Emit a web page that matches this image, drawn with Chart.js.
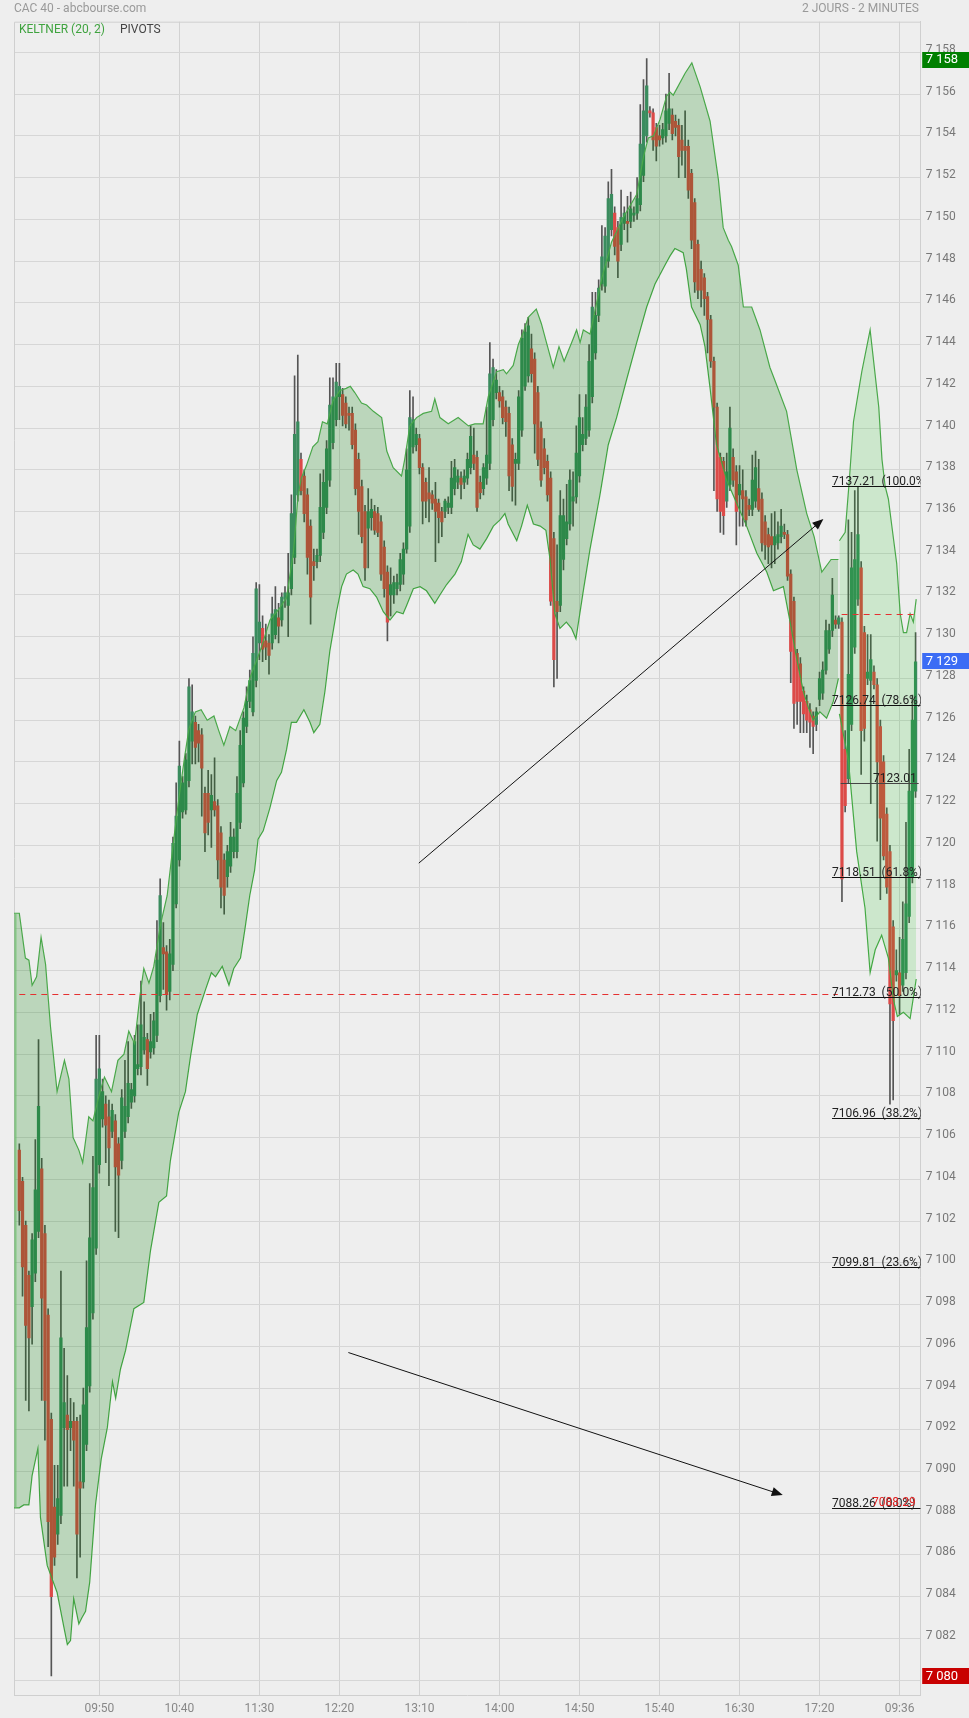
<!DOCTYPE html>
<html>
<head>
<meta charset="utf-8">
<title>CAC 40 - abcbourse.com</title>
<script src="https://cdn.jsdelivr.net/npm/chart.js@4.4.1/dist/chart.umd.min.js"></script>
<style>
  html, body { margin: 0; padding: 0; background: #eeeeee; }
  #wrap { position: relative; width: 969px; height: 1718px; font-family: Roboto, "Noto Sans", sans-serif; }
  #chart { position: absolute; left: 0; top: 0; }
  .txt { position: absolute; font-size: 12px; line-height: 14px; white-space: nowrap; z-index: 2; }
  #title { left: 14px; top: 1px; color: #999; }
  #period { right: 50px; top: 1px; color: #999; }
  #keltner { left: 19px; top: 22px; color: #3fa33f; }
  #pivots { left: 120px; top: 22px; color: #444; }
</style>
</head>
<body>
<div id="wrap">
  <div class="txt" id="title">CAC 40 - abcbourse.com</div>
  <div class="txt" id="period">2 JOURS - 2 MINUTES</div>
  <div class="txt" id="keltner">KELTNER (20, 2)</div>
  <div class="txt" id="pivots">PIVOTS</div>
  <canvas id="chart" width="969" height="1718"></canvas>
</div>
<script>
// 2 minute candles, index 0 = 09:00 day 1, day 2 starts at index 257
const opens = [
  7105.4, 7103.9, 7101.8, 7099.4, 7097.9, 7099.5, 7101.5, 7104.5, 7101.4, 7097.5,
  7092.5, 7088.3, 7087.0, 7087.9, 7092.1, 7092.7, 7092.1, 7092.4, 7092.4, 7089.5,
  7089.5, 7091.3, 7094.1, 7097.6, 7100.7, 7104.7, 7106.9, 7107.6, 7107.0, 7106.3,
  7106.8, 7105.7, 7104.9, 7106.3, 7107.0, 7107.7, 7108.0, 7109.3, 7109.4, 7110.2,
  7110.7, 7110.1, 7110.3, 7110.9, 7112.8, 7115.1, 7114.9, 7113.0, 7114.3, 7117.2,
  7119.3, 7121.6, 7121.7, 7123.1, 7125.0, 7125.9, 7125.5, 7125.3, 7122.5, 7122.5,
  7121.7, 7122.1, 7121.9, 7120.6, 7119.3, 7118.5, 7119.0, 7119.7, 7119.7, 7121.1,
  7123.0, 7125.7, 7126.9, 7126.4, 7127.9, 7129.7, 7130.4, 7129.8, 7129.7, 7129.7,
  7130.1, 7130.9, 7130.8, 7131.8, 7131.5, 7132.3, 7133.8, 7136.8, 7138.5, 7137.7,
  7136.8, 7135.3, 7133.6, 7133.6, 7133.9, 7135.0, 7136.2, 7137.5, 7139.3, 7140.4,
  7141.5, 7141.6, 7141.2, 7140.7, 7140.7, 7139.9, 7138.5, 7137.2, 7136.0, 7135.2,
  7135.7, 7136.0, 7135.9, 7135.5, 7134.3, 7133.1, 7132.0, 7132.0, 7132.3, 7132.5,
  7133.0, 7134.2, 7135.3, 7139.1, 7139.2, 7139.5, 7138.1, 7137.4, 7136.9, 7136.8,
  7136.6, 7136.4, 7136.0, 7136.0, 7136.2, 7136.2, 7137.1, 7137.4, 7137.6, 7137.4,
  7137.6, 7138.1, 7138.7, 7138.6, 7137.4, 7137.1, 7137.6, 7138.3, 7140.4, 7141.7,
  7141.7, 7141.5, 7141.0, 7140.7, 7139.2, 7138.3, 7138.3, 7139.9, 7142.0, 7142.5,
  7143.8, 7143.3, 7141.7, 7140.0, 7139.0, 7138.4, 7137.6, 7134.7, 7131.7, 7131.5,
  7133.7, 7134.7, 7135.4, 7136.5, 7136.7, 7137.7, 7139.2, 7139.5, 7139.9, 7141.5,
  7143.6, 7145.4, 7146.9, 7146.8, 7148.0, 7149.5, 7150.3, 7149.6, 7148.8, 7149.8,
  7149.9, 7149.9, 7150.2, 7150.3, 7150.7, 7152.1, 7154.0, 7155.2, 7155.1, 7154.4,
  7154.0, 7153.9, 7154.0, 7154.6, 7155.0, 7154.7, 7154.5, 7153.8, 7153.5, 7153.5,
  7152.2, 7150.8, 7148.8, 7147.6, 7147.2, 7146.3, 7145.2, 7143.2, 7141.0, 7138.6,
  7138.4, 7136.5, 7137.3, 7138.6, 7137.9, 7136.8, 7137.0, 7136.7, 7136.3, 7136.1,
  7136.5, 7137.1, 7136.6, 7135.5, 7134.9, 7134.8, 7134.4, 7134.5, 7134.8, 7135.0,
  7134.9, 7133.0, 7131.7, 7129.2, 7128.7, 7127.4, 7126.9, 7126.5, 7126.2, 7125.8,
  7127.0, 7127.3, 7128.4, 7129.4, 7130.3, 7130.8, 7130.6, 7130.7, 7124.6, 7123.2,
  7125.8, 7129.5, 7131.8, 7133.3, 7130.2, 7128.0, 7127.9, 7128.3, 7127.7, 7125.7,
  7124.0, 7121.5, 7119.7, 7116.1, 7113.8, 7113.9, 7113.3, 7113.9, 7116.6, 7118.5,
  7122.6
]
const highs = [
  7105.7, 7104.1, 7102.0, 7099.6, 7101.4, 7105.9, 7110.7, 7105.0, 7101.8, 7097.8,
  7092.8, 7090.3, 7090.3, 7099.6, 7095.9, 7094.6, 7093.5, 7093.3, 7092.6, 7092.7,
  7094.0, 7100.1, 7103.8, 7105.1, 7110.9, 7110.9, 7108.8, 7108.0, 7107.8, 7107.6,
  7107.1, 7106.0, 7108.3, 7109.7, 7110.6, 7108.6, 7110.9, 7111.4, 7113.5, 7112.5,
  7111.0, 7111.9, 7112.0, 7116.4, 7118.4, 7116.3, 7115.2, 7115.5, 7120.4, 7123.0,
  7125.0, 7123.3, 7124.4, 7128.0, 7127.7, 7126.2, 7125.8, 7125.6, 7122.8, 7123.6,
  7123.4, 7124.2, 7122.2, 7120.9, 7119.6, 7120.0, 7121.1, 7120.8, 7123.3, 7125.5,
  7126.4, 7127.6, 7128.4, 7130.0, 7132.6, 7132.5, 7131.0, 7130.6, 7130.1, 7131.9,
  7132.4, 7131.6, 7132.1, 7132.4, 7134.0, 7136.8, 7142.5, 7143.5, 7138.8, 7138.0,
  7137.1, 7135.6, 7134.2, 7134.2, 7137.8, 7138.0, 7139.4, 7142.4, 7142.4, 7143.1,
  7143.1, 7141.9, 7141.5, 7141.0, 7141.0, 7140.2, 7138.8, 7137.5, 7136.3, 7137.1,
  7136.6, 7136.3, 7136.2, 7135.8, 7134.6, 7133.4, 7133.3, 7132.9, 7133.0, 7134.0,
  7134.5, 7139.0, 7141.8, 7141.5, 7140.0, 7139.7, 7138.3, 7137.6, 7138.1, 7137.0,
  7137.4, 7136.6, 7136.2, 7136.6, 7136.7, 7138.4, 7138.5, 7138.0, 7137.9, 7138.0,
  7138.8, 7140.1, 7140.0, 7138.9, 7137.7, 7138.3, 7141.0, 7144.1, 7143.3, 7142.8,
  7142.0, 7141.8, 7141.3, 7141.0, 7139.5, 7138.8, 7141.8, 7144.7, 7145.0, 7145.3,
  7144.5, 7143.6, 7142.0, 7140.3, 7139.5, 7138.7, 7137.9, 7135.0, 7134.4, 7137.0,
  7136.6, 7137.3, 7138.0, 7137.9, 7140.1, 7141.6, 7140.5, 7141.6, 7144.0, 7146.5,
  7146.5, 7147.1, 7149.7, 7149.6, 7151.8, 7152.4, 7150.6, 7149.9, 7151.4, 7150.6,
  7151.1, 7151.3, 7150.6, 7152.0, 7155.5, 7156.7, 7157.7, 7155.4, 7155.3, 7154.6,
  7154.5, 7154.6, 7156.0, 7157.0, 7155.3, 7155.0, 7154.8, 7154.5, 7155.2, 7153.8,
  7152.4, 7151.0, 7149.0, 7148.0, 7147.4, 7146.5, 7145.4, 7143.4, 7141.2, 7138.8,
  7138.6, 7138.8, 7141.0, 7139.0, 7138.2, 7138.2, 7138.0, 7137.0, 7136.6, 7138.7,
  7138.9, 7138.5, 7136.9, 7135.8, 7135.2, 7135.9, 7136.0, 7135.5, 7136.1, 7135.4,
  7135.1, 7133.2, 7131.9, 7129.4, 7129.0, 7127.6, 7127.2, 7126.8, 7126.4, 7126.6,
  7128.3, 7128.8, 7130.8, 7130.6, 7132.8, 7131.0, 7131.0, 7130.9, 7125.5, 7135.6,
  7135.0, 7137.0, 7137.2, 7133.6, 7130.5, 7130.1, 7130.1, 7128.6, 7128.0, 7126.0,
  7124.3, 7121.8, 7120.0, 7116.4, 7115.0, 7115.6, 7117.3, 7121.1, 7124.6, 7127.2,
  7130.2
]
const lows = [
  7101.8, 7098.4, 7093.4, 7092.9, 7096.1, 7099.1, 7101.2, 7093.4, 7091.5, 7086.4,
  7080.2, 7085.5, 7086.5, 7087.5, 7089.3, 7089.3, 7091.0, 7089.3, 7084.9, 7085.9,
  7089.2, 7091.0, 7093.8, 7097.3, 7100.4, 7104.3, 7106.5, 7104.8, 7103.7, 7106.0,
  7101.5, 7101.2, 7104.5, 7106.0, 7106.7, 7107.4, 7107.7, 7109.0, 7109.0, 7110.0,
  7108.5, 7109.8, 7110.0, 7110.6, 7112.5, 7113.1, 7112.1, 7112.6, 7114.0, 7117.0,
  7119.0, 7121.3, 7121.5, 7122.8, 7123.9, 7123.9, 7124.0, 7121.4, 7119.7, 7120.5,
  7119.9, 7121.4, 7118.4, 7117.0, 7116.7, 7118.0, 7118.7, 7119.4, 7119.4, 7120.8,
  7122.8, 7125.4, 7126.6, 7126.2, 7127.6, 7128.9, 7128.8, 7128.9, 7128.2, 7129.4,
  7129.9, 7129.7, 7130.5, 7131.4, 7130.0, 7132.0, 7133.5, 7136.5, 7136.8, 7135.5,
  7133.0, 7130.6, 7132.7, 7133.3, 7133.6, 7134.7, 7135.9, 7137.2, 7139.0, 7140.1,
  7140.4, 7140.1, 7140.0, 7139.9, 7139.0, 7136.8, 7134.9, 7134.5, 7132.7, 7133.3,
  7135.1, 7134.9, 7134.8, 7132.7, 7131.9, 7129.8, 7131.0, 7131.6, 7132.0, 7132.2,
  7132.5, 7134.0, 7135.0, 7138.8, 7138.9, 7137.8, 7135.4, 7135.7, 7135.5, 7136.1,
  7133.6, 7134.5, 7134.8, 7135.7, 7135.9, 7135.9, 7136.8, 7137.1, 7136.6, 7137.1,
  7137.3, 7137.8, 7138.0, 7136.0, 7136.6, 7136.8, 7137.3, 7138.0, 7140.1, 7141.4,
  7141.0, 7140.2, 7139.6, 7137.0, 7136.5, 7136.3, 7138.0, 7139.6, 7141.8, 7142.2,
  7142.2, 7138.8, 7138.2, 7137.2, 7137.8, 7136.5, 7131.5, 7127.6, 7128.0, 7131.2,
  7133.2, 7134.4, 7135.1, 7135.3, 7136.4, 7137.4, 7138.9, 7139.2, 7139.6, 7141.2,
  7143.3, 7145.1, 7146.6, 7146.5, 7147.7, 7149.2, 7148.3, 7147.2, 7148.5, 7149.5,
  7148.9, 7149.6, 7149.9, 7150.0, 7150.4, 7151.8, 7153.7, 7154.9, 7153.3, 7152.8,
  7153.5, 7153.6, 7153.7, 7154.3, 7153.8, 7154.0, 7152.0, 7152.6, 7152.0, 7151.0,
  7148.6, 7146.5, 7146.2, 7145.8, 7145.4, 7143.6, 7142.9, 7137.0, 7136.0, 7135.0,
  7134.9, 7136.2, 7137.0, 7137.2, 7134.4, 7135.3, 7135.3, 7135.3, 7135.8, 7135.8,
  7136.2, 7136.0, 7134.1, 7133.7, 7133.5, 7133.3, 7133.5, 7134.2, 7134.5, 7134.7,
  7132.7, 7127.8, 7125.6, 7125.8, 7125.4, 7125.4, 7125.4, 7124.7, 7124.4, 7125.5,
  7126.7, 7127.0, 7128.2, 7129.2, 7130.0, 7130.4, 7130.4, 7117.3, 7121.6, 7123.0,
  7125.5, 7129.2, 7131.5, 7123.4, 7125.0, 7127.7, 7122.0, 7127.5, 7120.2, 7117.4,
  7119.3, 7117.7, 7107.6, 7107.8, 7113.5, 7111.9, 7113.0, 7113.6, 7116.3, 7118.2,
  7122.3
]
const closes = [
  7102.5, 7099.8, 7097.0, 7096.4, 7101.1, 7103.5, 7107.5, 7098.3, 7093.4, 7087.6,
  7084.0, 7085.9, 7088.7, 7096.4, 7093.3, 7092.0, 7092.4, 7091.5, 7087.0, 7089.2,
  7093.2, 7096.9, 7101.2, 7103.6, 7108.8, 7109.3, 7108.2, 7106.6, 7105.5, 7107.3,
  7104.6, 7104.2, 7107.9, 7107.5, 7108.6, 7108.3, 7110.6, 7109.5, 7111.4, 7110.8,
  7109.3, 7110.6, 7111.6, 7114.5, 7117.6, 7114.8, 7112.9, 7114.8, 7120.1, 7121.4,
  7123.8, 7123.0, 7124.1, 7127.6, 7126.4, 7124.7, 7124.9, 7123.7, 7120.6, 7121.1,
  7122.4, 7121.7, 7119.3, 7118.0, 7117.6, 7119.7, 7120.4, 7120.4, 7122.5, 7124.8,
  7126.1, 7126.9, 7127.9, 7129.2, 7132.3, 7130.7, 7129.4, 7129.5, 7129.1, 7131.1,
  7131.3, 7130.5, 7131.9, 7132.1, 7132.1, 7135.9, 7139.7, 7140.3, 7137.0, 7135.9,
  7133.8, 7131.9, 7133.4, 7133.9, 7136.2, 7137.4, 7139.0, 7141.1, 7141.5, 7142.2,
  7142.0, 7140.6, 7140.2, 7140.6, 7139.2, 7137.1, 7136.0, 7134.8, 7133.3, 7136.0,
  7136.1, 7135.1, 7135.0, 7133.0, 7132.3, 7130.7, 7132.5, 7132.6, 7132.6, 7133.7,
  7134.2, 7138.0, 7140.5, 7140.4, 7139.7, 7138.1, 7136.5, 7136.5, 7136.6, 7136.4,
  7136.0, 7135.7, 7135.5, 7136.5, 7136.4, 7137.6, 7138.1, 7137.7, 7137.3, 7137.7,
  7138.5, 7139.6, 7138.3, 7136.2, 7136.9, 7138.1, 7138.7, 7142.6, 7142.9, 7142.3,
  7141.3, 7140.5, 7140.3, 7137.7, 7137.2, 7138.5, 7141.5, 7144.3, 7144.6, 7144.9,
  7142.6, 7140.2, 7138.5, 7137.5, 7138.1, 7136.8, 7131.7, 7128.9, 7131.2, 7135.8,
  7135.8, 7135.5, 7137.5, 7136.7, 7138.8, 7140.5, 7139.7, 7141.0, 7143.2, 7145.8,
  7145.4, 7146.7, 7148.2, 7149.2, 7151.0, 7151.2, 7148.7, 7148.0, 7150.1, 7150.3,
  7149.8, 7150.5, 7150.3, 7151.0, 7153.6, 7155.2, 7156.4, 7155.1, 7153.8, 7153.5,
  7153.8, 7154.3, 7155.2, 7155.3, 7154.1, 7154.4, 7153.0, 7153.3, 7153.3, 7151.4,
  7149.0, 7147.0, 7146.6, 7146.6, 7146.2, 7145.2, 7143.2, 7141.0, 7136.6, 7136.0,
  7135.8, 7137.9, 7140.0, 7137.5, 7136.0, 7137.3, 7136.6, 7135.6, 7136.1, 7137.5,
  7138.1, 7136.1, 7134.5, 7134.4, 7134.3, 7134.4, 7134.8, 7134.9, 7135.3, 7134.9,
  7132.9, 7129.3, 7126.8, 7126.9, 7126.9, 7126.3, 7126.0, 7125.9, 7125.7, 7126.4,
  7128.0, 7128.4, 7130.3, 7130.3, 7132.0, 7130.6, 7130.9, 7118.4, 7121.9, 7128.2,
  7133.3, 7133.7, 7134.9, 7125.5, 7125.6, 7128.3, 7128.9, 7127.7, 7124.0, 7121.3,
  7119.5, 7118.0, 7112.4, 7111.6, 7114.0, 7112.8, 7115.5, 7117.2, 7122.6, 7126.0,
  7128.8
]

// x axis labels, placed at candle index
const tickIdx = [25, 50, 75, 100, 125, 150, 175, 200, 225, 250, 275]
const tickLabels = ["09:50", "10:40", "11:30", "12:20", "13:10", "14:00", "14:50", "15:40", "16:30", "17:20", "09:36"]

// Keltner (20, 2) bands, [index, value]
const keltnerUp1 = [
  [-2, 7116.75], [0, 7116.75], [1.9, 7114.6], [3, 7114.5], [4, 7113.3], [5.4, 7113.7], [6.8, 7115.6],
  [8.2, 7114.3], [9.75, 7111.3], [11.8, 7108.2], [14.1, 7109.7], [15.5, 7108.8], [16.8, 7106.0],
  [18.6, 7105.4], [19.8, 7104.8], [21.7, 7107.0], [23, 7106.8], [25.2, 7108.2], [26.6, 7108.9],
  [28.8, 7108.2], [30.8, 7109.7], [32.7, 7110.0], [34.2, 7111.1], [36, 7110.5], [37.7, 7112.8],
  [38.9, 7114.1], [40.5, 7113.4], [42, 7114.2], [44.1, 7116.2], [46.2, 7117.6], [48.1, 7120.1],
  [49.8, 7122.2], [51.6, 7124.2], [53, 7125.6], [55, 7126.4], [56.8, 7126.5], [58.7, 7126.0],
  [60.8, 7126.2], [62.3, 7125.5], [63.9, 7124.8], [65.8, 7125.7], [67.6, 7125.5], [70.2, 7126.6],
  [72, 7128.0], [75.2, 7129.3], [78.3, 7130.8], [81.5, 7131.4], [83.5, 7131.9], [85.6, 7134.0],
  [87.1, 7136.8], [88.1, 7137.6], [89.7, 7138.2], [91.7, 7139.1], [93.3, 7139.35], [94.7, 7140.3],
  [96.2, 7140.2], [98, 7141.3], [100.2, 7141.8], [102.1, 7141.9], [103.4, 7142.0], [104.8, 7141.7],
  [106.9, 7141.2], [108.5, 7141.1], [110.6, 7140.8], [113.2, 7140.5], [114.8, 7138.9], [116.8, 7138.1],
  [119.4, 7137.7], [120.4, 7138.5], [122, 7140.1], [124.1, 7140.5], [126.2, 7140.7], [128.8, 7140.8],
  [129.8, 7141.4], [131.4, 7140.5], [134, 7140.2], [137.1, 7140.5], [140.3, 7140.1], [142.3, 7140.2],
  [144.9, 7140.2], [146.5, 7141.5], [149.1, 7142.7], [151.2, 7142.8], [152.2, 7142.6], [154.3, 7143.0],
  [155.9, 7144.0], [157.5, 7144.6], [159, 7145.3], [161.5, 7145.7], [163.1, 7145.0], [164.5, 7144.2],
  [166.8, 7142.9], [168.6, 7143.9], [170.2, 7143.2], [173.1, 7144.3], [174.1, 7144.7], [175.2, 7144.1],
  [176.2, 7144.7], [178.3, 7144.5], [182, 7147.2], [185, 7148.9], [188.7, 7150.1], [192.9, 7151.2],
  [195, 7153.0], [196.5, 7153.9], [198.1, 7154.0], [200.2, 7154.8], [202.2, 7155.9], [203.3, 7156.1],
  [204.3, 7155.95], [208, 7157.0], [210.1, 7157.5], [212.7, 7156.35], [215.8, 7154.7], [218.4, 7151.9],
  [219.9, 7149.6], [221.5, 7149.0], [222.5, 7148.7], [224.6, 7147.8], [226.2, 7145.8], [228.8, 7145.8],
  [231.4, 7144.7], [234.5, 7142.9], [236, 7142.3], [239.7, 7140.8], [242.9, 7138.0], [246, 7135.9],
  [248.3, 7134.8], [250.7, 7133.1], [253.6, 7133.7], [255.9, 7133.7]
]
const keltnerLow1 = [
  [-2, 7088.26], [0, 7088.26], [1.4, 7088.4], [3, 7088.4], [4, 7089.8], [5.8, 7091.1], [6.6, 7087.8],
  [8.7, 7085.5], [11.8, 7084.2], [13.9, 7082.55], [15, 7081.7], [16, 7081.9], [17, 7083.9],
  [18.6, 7082.7], [19.6, 7083.0], [20.7, 7083.3], [22, 7084.7], [23.8, 7088.4], [25.6, 7090.6],
  [27.5, 7092.1], [29.1, 7094.3], [30.1, 7093.5], [31.6, 7094.9], [33.2, 7095.8], [35.8, 7097.8],
  [38.9, 7098.1], [41, 7100.6], [43.6, 7102.9], [46, 7103.2], [47.2, 7104.9], [49.8, 7107.2],
  [51.9, 7108.2], [53.5, 7109.9], [55.6, 7111.9], [58.2, 7113.1], [60, 7113.9], [61.3, 7113.7],
  [63.4, 7114.2], [65.5, 7113.3], [67, 7114.1], [69.1, 7114.6], [70.5, 7116.0], [72, 7117.6],
  [73.5, 7118.8], [74.6, 7120.3], [76.2, 7120.7], [78.3, 7121.8], [80.4, 7123.1], [81.9, 7123.5],
  [83.5, 7124.6], [85, 7125.9], [86.6, 7125.9], [88.9, 7126.5], [90.8, 7125.9], [92, 7125.4],
  [93.9, 7125.8], [95.5, 7127.4], [97, 7129.3], [99.1, 7131.2], [100.7, 7132.4], [102.2, 7133.0],
  [104.3, 7133.2], [105.8, 7133.0], [107.4, 7132.4], [109.5, 7132.3], [111.6, 7131.9], [113.7, 7131.2],
  [115.8, 7130.8], [117.9, 7131.2], [119.9, 7131.1], [121, 7131.5], [123.1, 7132.3], [125.2, 7132.4],
  [127.2, 7132.2], [129.8, 7131.6], [131.4, 7132.0], [133.5, 7132.5], [136.1, 7133.0], [138.1, 7133.6],
  [140.2, 7134.9], [141.8, 7134.4], [143.9, 7134.2], [146, 7134.7], [148.1, 7135.3], [150.2, 7135.6],
  [151.7, 7135.9], [152.7, 7135.4], [155.4, 7134.6], [156.9, 7135.3], [158.7, 7136.3], [160.6, 7135.4],
  [162.7, 7135.3], [164.5, 7135.1], [165.8, 7133.7], [167.3, 7131.1], [168.9, 7130.4], [170.9, 7130.7],
  [172.5, 7130.4], [173.9, 7129.9], [176.2, 7132.2], [178.3, 7134.2], [181.4, 7136.8], [184, 7139.2],
  [186.6, 7140.5], [189.7, 7142.3], [192.9, 7144.1], [196, 7145.8], [198.6, 7146.9], [201.7, 7147.8],
  [203.3, 7148.25], [204.8, 7148.6], [207.4, 7148.4], [208.4, 7147.6], [210, 7145.8], [212.7, 7144.95],
  [214.2, 7143.9], [215.8, 7141.9], [217.8, 7139.2], [221, 7137.5], [224.1, 7136.4], [227.2, 7135.3],
  [230.4, 7134.0], [233.5, 7133.1], [235.6, 7132.2], [238.7, 7132.4], [240.8, 7130.7], [242.9, 7128.9],
  [244.9, 7127.4], [246.5, 7126.6], [248, 7126.0], [250.1, 7126.4], [252.2, 7126.1], [254.3, 7126.9],
  [255.9, 7128.0]
]
const keltnerUp2 = [
  [256.2, 7134.6], [258, 7135.0], [259.3, 7137.5], [260.6, 7140.3], [263.2, 7142.7], [265.8, 7144.7],
  [268.5, 7141.0], [269.5, 7138.5], [270.5, 7137.2], [271.5, 7136.6], [272.5, 7135.4], [274.1, 7133.5],
  [275.2, 7131.1], [276.2, 7130.2], [277.2, 7130.2], [278.3, 7131.1], [279.3, 7130.7], [280.2, 7131.8]
]
const keltnerLow2 = [
  [256.2, 7126.3], [259, 7124.1], [261.6, 7119.7], [264.2, 7117.0], [265.8, 7113.9], [267.4, 7115.0],
  [269.4, 7115.7], [271.5, 7114.6], [273.1, 7112.6], [274.3, 7111.8], [276.2, 7112.0], [278.3, 7111.7],
  [280.2, 7113.6]
]

// pivots (red dashed), one per session: [fromIndex, toIndex, value]
const pivotLines = [[0, 255.7, 7112.9], [256.9, 280.5, 7131.1]]
const pivotLevel = 7123.01
const supportLabel = "7088.29"

// fibonacci retracement of day 2
const fibLevels = [7137.21, 7126.74, 7118.51, 7112.73, 7106.96, 7099.81, 7088.26]
const fibPct = ["100.0%", "78.6%", "61.8%", "50.0%", "38.2%", "23.6%", "0.0%"]
const fibFrom = 253.9

// hand drawn arrows: [fromIndex, fromValue, toIndex, toValue]
const arrows = [[124.8, 7119.15, 251.2, 7135.64], [102.8, 7095.7, 238.5, 7088.87]]

// badges on the price axis
const highBadge = 7157.65
const lowBadge = 7080.2
const lastBadge = 7128.82

const GREEN = "#3a8c5e"
const RED = "#dc4a48"
const FONT = "Roboto, 'Noto Sans', sans-serif"

document.addEventListener("DOMContentLoaded", () => {
  initializeChart()
})

function fmtPrice(v) {
  return String(Math.round(v)).replace(/\B(?=(\d{3})+$)/, " ")
}

// Draws the chart frame, fib levels, pivots, arrows and the price badges
const overlayPlugin = {
  id: "overlay",
  beforeDatasetsDraw(chart) {
    const { ctx, chartArea: a } = chart
    ctx.save()
    ctx.strokeStyle = "#cfcfcf"
    ctx.lineWidth = 1
    ctx.beginPath()
    ctx.moveTo(a.left + 0.5, a.bottom)
    ctx.lineTo(a.left + 0.5, a.top + 0.5)
    ctx.lineTo(a.right, a.top + 0.5)
    ctx.stroke()
    ctx.restore()
  },
  afterDatasetsDraw(chart) {
    const { ctx, chartArea: a, scales } = chart
    const x = scales.x
    const y = scales.y

    ctx.save()
    ctx.beginPath()
    ctx.rect(a.left, a.top, a.width, a.height)
    ctx.clip()

    // light edge where the band starts at the left border
    ctx.strokeStyle = "rgba(110,190,110,0.7)"
    ctx.lineWidth = 2
    ctx.beginPath()
    ctx.moveTo(a.left + 1.5, y.getPixelForValue(keltnerUp1[0][1]))
    ctx.lineTo(a.left + 1.5, y.getPixelForValue(keltnerLow1[0][1]))
    ctx.stroke()
    ctx.lineWidth = 1

    // pivots
    ctx.strokeStyle = "#e53030"
    ctx.setLineDash([6, 5])
    pivotLines.forEach(([i0, i1, v]) => {
      const py = Math.round(y.getPixelForValue(v)) + 0.5
      ctx.beginPath()
      ctx.moveTo(x.getPixelForValue(i0), py)
      ctx.lineTo(x.getPixelForValue(i1), py)
      ctx.stroke()
    })
    ctx.setLineDash([])

    // fib levels
    ctx.font = "12px " + FONT
    ctx.textBaseline = "alphabetic"
    const fx = x.getPixelForValue(fibFrom)
    fibLevels.forEach((v, k) => {
      const py = Math.round(y.getPixelForValue(v)) + 0.5
      ctx.strokeStyle = "#111"
      ctx.beginPath()
      ctx.moveTo(fx, py)
      ctx.lineTo(a.right, py)
      ctx.stroke()
      ctx.fillStyle = "#222"
      ctx.textAlign = "left"
      ctx.fillText(v.toFixed(2) + "  (" + fibPct[k] + ")", fx, py - 2)
    })

    // pivot level of the day with right aligned label
    const ppy = Math.round(y.getPixelForValue(pivotLevel)) + 0.5
    ctx.strokeStyle = "#444"
    ctx.beginPath()
    ctx.moveTo(x.getPixelForValue(256.6), ppy)
    ctx.lineTo(a.right - 2, ppy)
    ctx.stroke()
    ctx.fillStyle = "#222"
    ctx.textAlign = "right"
    ctx.fillText(pivotLevel.toFixed(2), a.right - 4, ppy - 2)

    ctx.fillStyle = "#e02020"
    const sy = Math.round(y.getPixelForValue(fibLevels[fibLevels.length - 1])) + 0.5
    ctx.fillText(supportLabel, a.right - 5, sy - 3)

    // arrows
    ctx.strokeStyle = "#111"
    ctx.fillStyle = "#111"
    arrows.forEach(([i0, v0, i1, v1]) => {
      const x0 = x.getPixelForValue(i0), y0 = y.getPixelForValue(v0)
      const x1 = x.getPixelForValue(i1), y1 = y.getPixelForValue(v1)
      const ang = Math.atan2(y1 - y0, x1 - x0)
      ctx.beginPath()
      ctx.moveTo(x0, y0)
      ctx.lineTo(x1 - 8 * Math.cos(ang), y1 - 8 * Math.sin(ang))
      ctx.stroke()
      ctx.beginPath()
      ctx.moveTo(x1, y1)
      ctx.lineTo(x1 - 11 * Math.cos(ang) + 4.5 * Math.sin(ang), y1 - 11 * Math.sin(ang) - 4.5 * Math.cos(ang))
      ctx.lineTo(x1 - 11 * Math.cos(ang) - 4.5 * Math.sin(ang), y1 - 11 * Math.sin(ang) + 4.5 * Math.cos(ang))
      ctx.closePath()
      ctx.fill()
    })
    ctx.restore()

    // badges
    ctx.save()
    ctx.font = "13px " + FONT
    ctx.textAlign = "left"
    ctx.textBaseline = "middle"
    const badges = [[highBadge, "#008000"], [lowBadge, "#c80000"], [lastBadge, "#3b6cf5"]]
    badges.forEach(([v, col]) => {
      const py = y.getPixelForValue(v)
      ctx.fillStyle = col
      ctx.fillRect(a.right + 1.5, Math.round(py - 8), chart.width - a.right, 16)
      ctx.fillStyle = "#fff"
      ctx.fillText(fmtPrice(v), a.right + 5, py + 0.5)
    })
    ctx.restore()
  },
}

function initializeChart() {
  const canvas = document.getElementById("chart")
  const idx = opens.map((_, i) => i)

  const wickData = idx.map((i) => ({ x: i, y: [lows[i], highs[i]] }))
  const bodyData = idx.map((i) => {
    let lo = Math.min(opens[i], closes[i])
    let hi = Math.max(opens[i], closes[i])
    if (hi - lo < 0.06) {
      lo -= 0.03
      hi += 0.03
    }
    return { x: i, y: [lo, hi] }
  })
  const bodyColors = idx.map((i) => (closes[i] >= opens[i] ? GREEN : RED))

  const toPoints = (arr) => arr.map(([i, v]) => ({ x: i, y: v }))
  const bandLine = {
    type: "line",
    borderColor: "#4aa84a",
    borderWidth: 1.2,
    pointRadius: 0,
    tension: 0,
  }

  new Chart(canvas.getContext("2d"), {
    type: "bar",
    data: {
      datasets: [
        { ...bandLine, data: toPoints(keltnerUp1), fill: "+1", backgroundColor: "rgba(0,128,0,0.21)", order: 1 },
        { ...bandLine, data: toPoints(keltnerLow1), fill: false, order: 1 },
        { ...bandLine, data: toPoints(keltnerUp2), fill: "+1", backgroundColor: "rgba(0,190,0,0.14)", order: 0 },
        { ...bandLine, data: toPoints(keltnerLow2), fill: false, order: 0 },
        { type: "bar", data: wickData, backgroundColor: "#555", barThickness: 1, grouped: false, order: 3 },
        { type: "bar", data: bodyData, backgroundColor: bodyColors, barThickness: 2.6, grouped: false, order: 2 },
      ],
    },
    options: {
      responsive: false,
      devicePixelRatio: 1,
      animation: false,
      events: [],
      layout: { padding: { left: 14, top: 21.7, right: 0, bottom: 0 } },
      plugins: { legend: { display: false }, tooltip: { enabled: false } },
      scales: {
        x: {
          type: "linear",
          min: -1.66,
          max: 281.6,
          offset: false,
          afterBuildTicks: (s) => {
            s.ticks = tickIdx.map((v) => ({ value: v }))
          },
          afterFit: (s) => {
            s.height = 23
          },
          ticks: {
            callback: (v, k) => tickLabels[k],
            color: "#888",
            padding: 7,
            maxRotation: 0,
            autoSkip: false,
            font: { family: FONT, size: 12 },
          },
          grid: { color: "#d2d2d2", drawTicks: false, offset: false },
          border: { color: "#cfcfcf" },
        },
        y: {
          position: "right",
          min: 7079.29,
          max: 7159.47,
          afterFit: (s) => {
            s.width = 48.3
          },
          ticks: {
            stepSize: 2,
            includeBounds: false,
            autoSkip: false,
            padding: 5,
            labelOffset: -2.5,
            color: "#777",
            font: { family: FONT, size: 12 },
            callback: (v) => fmtPrice(v),
          },
          grid: { color: "#d6d6d6", drawTicks: false },
          border: { color: "#cfcfcf" },
        },
      },
    },
    plugins: [overlayPlugin],
  })
}
</script>
</body>
</html>
